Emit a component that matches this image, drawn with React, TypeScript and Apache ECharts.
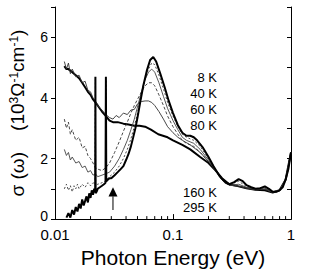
import React, { useEffect, useRef } from "react";
import * as echarts from "echarts";

const xTickLabels: Record<string, string> = { "0.01": "0.01", "0.1": "0.1", "1": "1" };
const yTickLabels = [0, 2, 4, 6];
const minorTicks = [0.02, 0.03, 0.04, 0.05, 0.06, 0.07, 0.08, 0.09, 0.2, 0.3, 0.4, 0.5, 0.6, 0.7, 0.8, 0.9];
const arrowPos = [0.031, 1.05];
const upperLabels = ["8 K", "40 K", "60 K", "80 K"];
const lowerLabels = ["160 K", "295 K"];

const k8 = [
  [0.0125, 0.05], [0.013, 0.2], [0.0135, 0.05], [0.014, 0.3], [0.0145, 0.15], [0.015, 0.4], [0.0155, 0.25],
  [0.016, 0.5], [0.0165, 0.35], [0.017, 0.65], [0.0175, 0.45], [0.018, 0.6], [0.0185, 0.75], [0.019, 0.55],
  [0.0195, 0.85], [0.02, 0.7], [0.0205, 0.95], [0.021, 0.8], [0.0215, 1.0], [0.0219, 0.9], [0.022, 4.7],
  [0.0221, 0.85], [0.0225, 0.9], [0.023, 1.0], [0.024, 1.05], [0.025, 1.1], [0.026, 1.15], [0.0268, 1.2],
  [0.027, 4.7], [0.0272, 1.25], [0.028, 1.3], [0.029, 1.35], [0.03, 1.35], [0.032, 1.45], [0.034, 1.55],
  [0.036, 1.65], [0.038, 1.75], [0.04, 1.95], [0.042, 2.15], [0.044, 2.4], [0.046, 2.7], [0.048, 3.0],
  [0.05, 3.35], [0.053, 3.9], [0.056, 4.4], [0.06, 4.9], [0.064, 5.25], [0.068, 5.35], [0.072, 5.2],
  [0.078, 4.8], [0.085, 4.35], [0.092, 3.9], [0.1, 3.5], [0.11, 3.1], [0.12, 2.85], [0.13, 2.75],
  [0.14, 2.75], [0.15, 2.7], [0.16, 2.6], [0.18, 2.35], [0.2, 2.05], [0.22, 1.75], [0.25, 1.4],
  [0.28, 1.2], [0.3, 1.15], [0.33, 1.22], [0.36, 1.32], [0.39, 1.25], [0.42, 1.12], [0.46, 1.05],
  [0.5, 1.0], [0.55, 1.02], [0.6, 1.08], [0.65, 1.0], [0.7, 0.9], [0.75, 0.9], [0.8, 0.95],
  [0.85, 1.05], [0.9, 1.3], [0.95, 1.65], [1.0, 2.2],
];

const k40 = [
  [0.012, 1.0], [0.0125, 1.15], [0.013, 0.95], [0.0135, 1.1], [0.014, 0.9], [0.0145, 1.1], [0.015, 1.0],
  [0.0155, 1.15], [0.016, 1.0], [0.017, 1.15], [0.018, 1.05], [0.019, 1.2], [0.02, 1.1], [0.021, 1.2],
  [0.0219, 1.15], [0.022, 4.6], [0.0221, 1.1], [0.023, 1.15], [0.025, 1.2], [0.0268, 1.25], [0.027, 4.6],
  [0.0272, 1.3], [0.029, 1.4], [0.032, 1.55], [0.035, 1.75], [0.038, 2.0], [0.041, 2.3], [0.044, 2.65],
  [0.047, 3.05], [0.05, 3.5], [0.054, 4.1], [0.058, 4.6], [0.062, 4.95], [0.066, 5.15], [0.07, 5.1],
  [0.076, 4.75], [0.083, 4.3], [0.09, 3.85], [0.1, 3.4], [0.11, 3.05], [0.12, 2.8], [0.13, 2.7],
  [0.15, 2.6], [0.17, 2.4], [0.2, 2.0], [0.23, 1.6], [0.26, 1.3], [0.3, 1.13], [0.36, 1.25], [0.42, 1.08],
  [0.5, 1.0], [0.6, 1.05], [0.7, 0.9], [0.8, 0.95], [0.9, 1.3], [1.0, 2.2],
];

const k60 = [
  [0.012, 2.3], [0.0125, 2.1], [0.013, 2.2], [0.0135, 1.95], [0.014, 2.05], [0.015, 1.85], [0.016, 1.9],
  [0.017, 1.7], [0.018, 1.75], [0.019, 1.55], [0.02, 1.6], [0.021, 1.45], [0.022, 1.5], [0.023, 1.4],
  [0.025, 1.45], [0.027, 1.5], [0.029, 1.55], [0.032, 1.75], [0.035, 2.0], [0.038, 2.3], [0.041, 2.6],
  [0.044, 2.95], [0.047, 3.3], [0.05, 3.7], [0.054, 4.2], [0.058, 4.6], [0.062, 4.85], [0.066, 4.95],
  [0.07, 4.85], [0.076, 4.5], [0.083, 4.05], [0.09, 3.65], [0.1, 3.25], [0.11, 2.95], [0.12, 2.7],
  [0.13, 2.6], [0.15, 2.5], [0.17, 2.3], [0.2, 1.95], [0.23, 1.6], [0.26, 1.3], [0.3, 1.12], [0.36, 1.15],
  [0.42, 1.05], [0.5, 0.98], [0.6, 1.02], [0.7, 0.9], [0.8, 0.95], [0.9, 1.3], [1.0, 2.2],
];

const k80 = [
  [0.012, 3.3], [0.0125, 3.0], [0.013, 3.2], [0.0135, 2.8], [0.014, 2.95], [0.015, 2.6], [0.016, 2.7],
  [0.017, 2.35], [0.018, 2.4], [0.019, 2.1], [0.02, 2.0], [0.021, 1.85], [0.022, 1.7], [0.023, 1.65],
  [0.025, 1.6], [0.027, 1.7], [0.029, 1.85], [0.032, 2.2], [0.035, 2.55], [0.038, 2.9], [0.041, 3.2],
  [0.044, 3.5], [0.047, 3.75], [0.05, 3.95], [0.054, 4.2], [0.058, 4.4], [0.062, 4.5], [0.066, 4.5],
  [0.07, 4.4], [0.076, 4.1], [0.083, 3.75], [0.09, 3.4], [0.1, 3.05], [0.11, 2.8], [0.12, 2.6], [0.13, 2.5],
  [0.15, 2.4], [0.17, 2.2], [0.2, 1.9], [0.23, 1.6], [0.26, 1.3], [0.3, 1.12], [0.36, 1.1], [0.42, 1.02],
  [0.5, 0.97], [0.6, 1.0], [0.7, 0.88], [0.8, 0.95], [0.9, 1.3], [1.0, 2.2],
];

const k160 = [
  [0.012, 5.2], [0.0125, 4.95], [0.013, 5.15], [0.0135, 4.8], [0.014, 4.95], [0.015, 4.7], [0.016, 4.75],
  [0.017, 4.5], [0.018, 4.55], [0.019, 4.25], [0.02, 4.2], [0.021, 4.0], [0.022, 3.9], [0.023, 3.75],
  [0.025, 3.6], [0.027, 3.45], [0.029, 3.35], [0.031, 3.3], [0.033, 3.42], [0.035, 3.35], [0.038, 3.5],
  [0.041, 3.45], [0.044, 3.6], [0.047, 3.62], [0.05, 3.8], [0.054, 3.88], [0.058, 3.9], [0.062, 3.9],
  [0.066, 3.85], [0.07, 3.75], [0.076, 3.55], [0.083, 3.3], [0.09, 3.05], [0.1, 2.85], [0.11, 2.7],
  [0.12, 2.6], [0.14, 2.45], [0.17, 2.2], [0.2, 1.9], [0.23, 1.6], [0.26, 1.3], [0.3, 1.12], [0.36, 1.08],
  [0.42, 1.02], [0.5, 0.97], [0.6, 0.98], [0.7, 0.88], [0.8, 0.95], [0.9, 1.3], [1.0, 2.2],
];

const k295 = [
  [0.012, 5.05], [0.0125, 4.95], [0.013, 4.95], [0.014, 4.85], [0.015, 4.75], [0.016, 4.65], [0.017, 4.5],
  [0.018, 4.35], [0.019, 4.2], [0.02, 4.1], [0.021, 3.95], [0.022, 3.85], [0.023, 3.75], [0.025, 3.55],
  [0.027, 3.4], [0.029, 3.25], [0.031, 3.2], [0.034, 3.2], [0.038, 3.15], [0.042, 3.12], [0.047, 3.08],
  [0.052, 3.08], [0.058, 3.05], [0.065, 2.95], [0.075, 2.8], [0.09, 2.7], [0.1, 2.6], [0.12, 2.45],
  [0.14, 2.3], [0.17, 2.05], [0.2, 1.85], [0.23, 1.6], [0.26, 1.35], [0.3, 1.15], [0.36, 1.08], [0.42, 1.02],
  [0.5, 0.97], [0.6, 0.95], [0.7, 0.88], [0.8, 0.95], [0.9, 1.3], [1.0, 2.2],
];

const FONT = "'Liberation Sans', Arial, Helvetica, sans-serif";

export default function App() {
  const ref = useRef<HTMLDivElement>(null);
  useEffect(() => {
    if (!ref.current) return;
    const chart = echarts.init(ref.current, undefined, { renderer: "svg" });
    const line = (name: string, data: number[][], width: number, type: any, color: string) => ({
      name,
      type: "line",
      data,
      showSymbol: false,
      symbol: "none",
      smooth: false,
      z: 3,
      lineStyle: { width, type, color },
    });
    chart.setOption({
      animation: false,
      backgroundColor: "#fff",
      grid: { left: 55, right: 19, top: 7, bottom: 51 },
      xAxis: [
        {
          type: "log",
          logBase: 10,
          min: 0.01,
          max: 1,
          name: "Photon Energy (eV)",
          nameLocation: "middle",
          nameGap: 24,
          nameTextStyle: { fontFamily: FONT, fontSize: 21, color: "#000" },
          axisLine: { lineStyle: { color: "#000", width: 1 } },
          axisTick: { inside: true, length: 5, lineStyle: { color: "#000" } },
          axisLabel: {
            margin: 9,
            lineHeight: 13,
            fontFamily: FONT,
            fontSize: 15,
            color: "#000",
            formatter: (v: number) => xTickLabels[String(+v.toPrecision(3))] ?? "",
          },
          splitLine: { show: false },
        },
        {
          type: "log",
          logBase: 10,
          min: 0.01,
          max: 1,
          position: "top",
          axisLine: { lineStyle: { color: "#000", width: 1 } },
          axisTick: { show: false },
          axisLabel: { show: false },
          splitLine: { show: false },
        },
      ],
      yAxis: [
        {
          type: "value",
          min: 0,
          max: 7,
          interval: 1,
          name: "{m|σ (ω)    (10}{s|3}{m|Ω}{s|-1}{m|cm}{s|-1}{m|)}",
          nameLocation: "middle",
          nameRotate: 90,
          nameGap: 28,
          nameTextStyle: {
            rich: {
              m: { fontFamily: FONT, fontSize: 19, color: "#000" },
              s: { fontFamily: FONT, fontSize: 12, color: "#000", verticalAlign: "top" },
            },
          },
          axisLine: { show: true, lineStyle: { color: "#000", width: 1 } },
          axisTick: { show: true, inside: false, length: 4, lineStyle: { color: "#000" } },
          axisLabel: {
            margin: 7,
            lineHeight: 12,
            fontFamily: FONT,
            fontSize: 14,
            color: "#000",
            formatter: (v: number) => (v === 0 ? "{z|0}" : yTickLabels.includes(v) ? String(v) : ""),
            rich: {
              z: { fontFamily: FONT, fontSize: 14, color: "#000", lineHeight: 12, padding: [0, 0, 6, 0] },
            },
          },
          splitLine: { show: false },
        },
        {
          type: "value",
          min: 0,
          max: 7,
          interval: 1,
          position: "right",
          axisLine: { show: true, lineStyle: { color: "#000", width: 1 } },
          axisTick: { show: true, inside: true, length: 4, lineStyle: { color: "#000" } },
          axisLabel: { show: false },
          splitLine: { show: false },
        },
      ],
      series: [
        line("295 K", k295, 2, "solid", "#000"),
        line("160 K", k160, 0.9, "solid", "#333"),
        line("80 K", k80, 0.9, [3, 2], "#333"),
        line("60 K", k60, 0.9, "solid", "#444"),
        line("40 K", k40, 0.9, [2, 2], "#333"),
        line("8 K", k8, 2, "solid", "#000"),
        {
          type: "custom",
          name: "minor ticks",
          data: minorTicks.map((v) => [v, 0]),
          clip: false,
          silent: true,
          z: 5,
          renderItem: (params: any, api: any) => {
            const p = api.coord([api.value(0), 0]);
            return {
              type: "line",
              shape: { x1: p[0], y1: p[1], x2: p[0], y2: p[1] - 3 },
              style: { stroke: "#000", lineWidth: 1 },
            };
          },
        },
        {
          type: "custom",
          name: "arrow",
          data: [arrowPos],
          clip: false,
          silent: true,
          z: 6,
          renderItem: (params: any, api: any) => {
            const tip = api.coord([api.value(0), api.value(1)]);
            const base = api.coord([api.value(0), api.value(1) - 0.3]);
            const foot = api.coord([api.value(0), api.value(1) - 0.75]);
            return {
              type: "group",
              children: [
                {
                  type: "polygon",
                  shape: { points: [[tip[0], tip[1]], [tip[0] - 4.5, base[1]], [tip[0] + 4.5, base[1]]] },
                  style: { fill: "#000" },
                },
                {
                  type: "line",
                  shape: { x1: tip[0], y1: base[1], x2: tip[0], y2: foot[1] },
                  style: { stroke: "#000", lineWidth: 1 },
                },
              ],
            };
          },
        },
      ],
      graphic: [
        ...upperLabels.map((t, i) => ({
          type: "text",
          x: 217,
          y: [77, 93, 109, 125][i],
          style: { text: t, fontFamily: FONT, fontSize: 13, fill: "#000", align: "right", verticalAlign: "middle" },
        })),
        ...lowerLabels.map((t, i) => ({
          type: "text",
          x: 217,
          y: [192, 207][i],
          style: { text: t, fontFamily: FONT, fontSize: 13, fill: "#000", align: "right", verticalAlign: "middle" },
        })),
      ],
    });
    return () => chart.dispose();
  }, []);
  return <div ref={ref} style={{ position: "fixed", left: 0, top: 0, width: 310, height: 273 }} />;
}
